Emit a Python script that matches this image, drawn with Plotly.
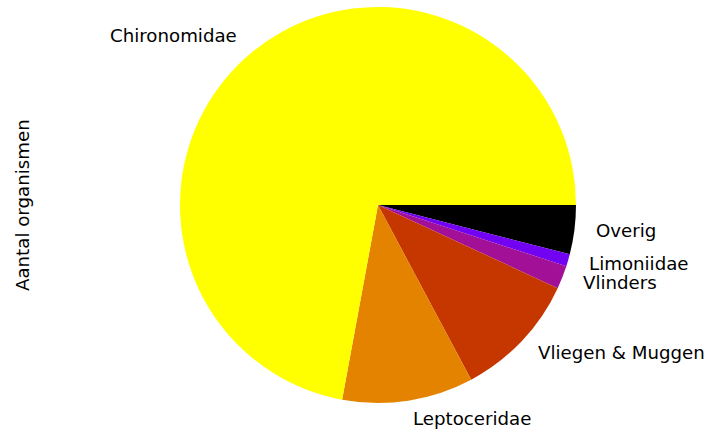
import math
import plotly.graph_objects as go

# Data
categories = ["Chironomidae", "Leptoceridae", "Vliegen & Muggen", "Vlinders", "Limoniidae", "Overig"]
counts = [721, 107, 103, 19, 10, 40]
colors = ["#ffff00", "#e48300", "#c63700", "#a11096", "#7202f2", "#000000"]
ylabel = "Aantal organismen"

FONT = "DejaVu Sans"
FS = 18.2

# matplotlib-style pie: first slice starts at 3 o'clock, going counterclockwise.
# Equivalent in plotly: reversed order, clockwise, starting at 3 o'clock.
fig = go.Figure(go.Pie(
    labels=categories[::-1],
    values=counts[::-1],
    sort=False,
    direction="clockwise",
    rotation=90,
    marker=dict(colors=colors[::-1], line=dict(width=0)),
    textinfo="none",
    hoverinfo="label+value",
    showlegend=False,
))

# Labels at 1.1 x radius at each slice's mid angle (derived from the data)
total = sum(counts)
start = 0.0
annotations = []
for name, v in zip(categories, counts):
    frac = v / total
    mid = (start + frac / 2) * 2 * math.pi
    start += frac
    cx, cy = math.cos(mid), math.sin(mid)
    annotations.append(dict(
        x=0.5 + 0.55 * cx, y=0.5 + 0.55 * cy,
        xref="paper", yref="paper",
        text=name, showarrow=False,
        xanchor="left" if cx >= 0 else "right",
        yanchor="middle", yshift=2,
        font=dict(family=FONT, size=FS, color="#000000"),
    ))

annotations.append(dict(
    x=-0.399, y=0.5, xref="paper", yref="paper",
    text=ylabel, showarrow=False, textangle=-90,
    xanchor="center", yanchor="middle",
    font=dict(family=FONT, size=FS, color="#000000"),
))

fig.update_layout(
    width=708, height=434,
    margin=dict(l=180, r=132, t=7, b=31),
    paper_bgcolor="white",
    plot_bgcolor="white",
    annotations=annotations,
    font=dict(family=FONT, size=FS),
)

fig.write_html("out.html", config={"displayModeBar": False},
               post_script="document.body.style.margin='0';")
